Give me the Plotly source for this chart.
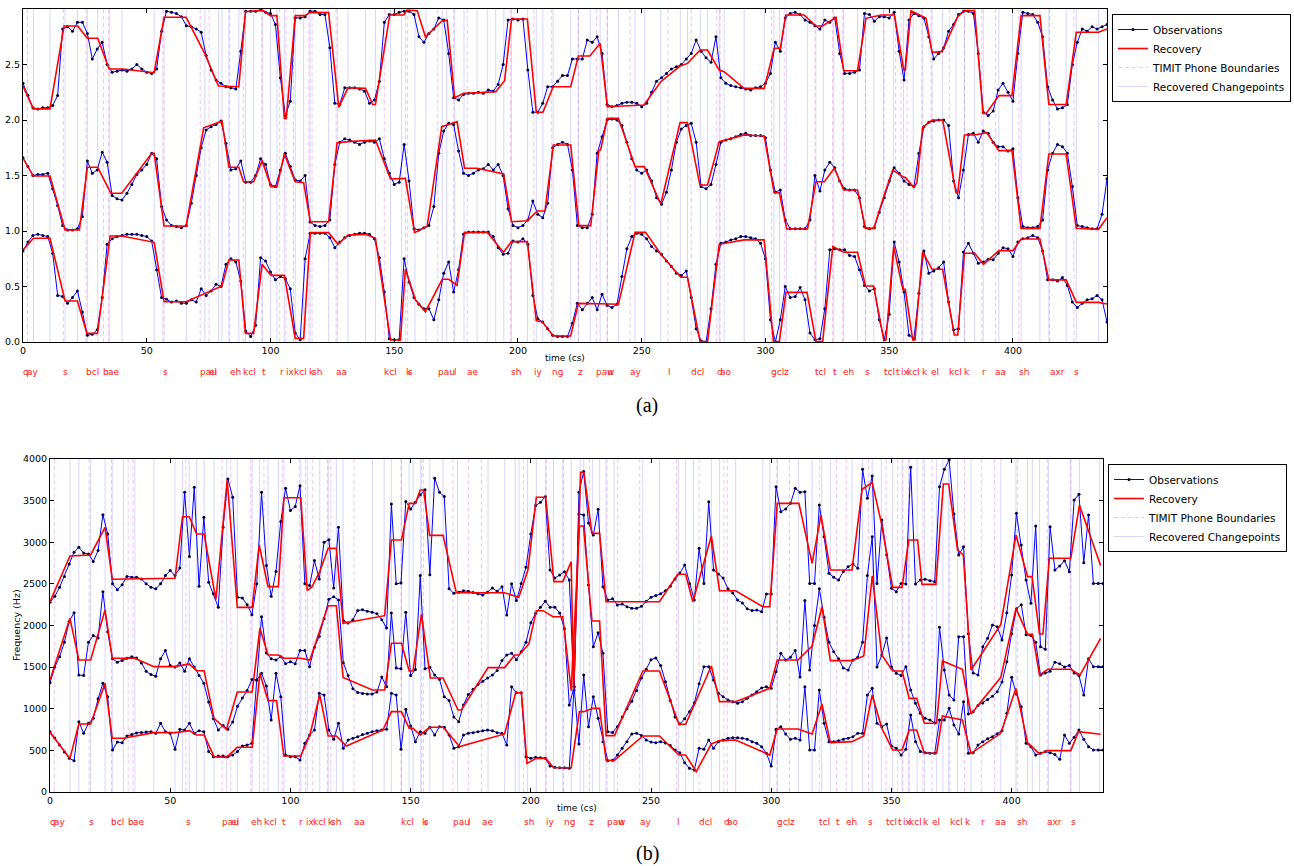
import plotly.graph_objects as go

# ---------------- data ----------------
T = list(range(0, 439, 2))  # sample times (cs), step 2

# Panel (a) observations
A_TOP = [2.33, 2.22, 2.11, 2.10, 2.11, 2.11, 2.13, 2.22, 2.82, 2.84,
         2.80, 2.88, 2.88, 2.78, 2.55, 2.64, 2.70, 2.50, 2.43, 2.44,
         2.45, 2.44, 2.46, 2.50, 2.46, 2.43, 2.42, 2.46, 2.80, 2.98,
         2.97, 2.96, 2.93, 2.85, 2.84, 2.82, 2.79, 2.58, 2.45, 2.36,
         2.33, 2.30, 2.29, 2.28, 2.62, 2.98, 2.98, 2.98, 2.99, 2.97,
         2.96, 2.86, 2.38, 2.04, 2.17, 2.92, 2.92, 2.93, 2.98, 2.98,
         2.95, 2.95, 2.65, 2.15, 2.14, 2.29, 2.29, 2.29, 2.28, 2.26,
         2.15, 2.18, 2.35, 2.88, 2.95, 2.95, 2.97, 2.98, 2.98, 2.95,
         2.75, 2.70, 2.78, 2.82, 2.92, 2.90, 2.60, 2.20, 2.18, 2.23,
         2.24, 2.24, 2.25, 2.24, 2.27, 2.26, 2.32, 2.50, 2.90, 2.91,
         2.90, 2.91, 2.45, 2.07, 2.07, 2.15, 2.30, 2.30, 2.35, 2.40,
         2.40, 2.55, 2.55, 2.55, 2.72, 2.70, 2.75, 2.60, 2.14, 2.12,
         2.13, 2.15, 2.16, 2.16, 2.15, 2.12, 2.15, 2.25, 2.35, 2.38,
         2.42, 2.46, 2.48, 2.50, 2.55, 2.60, 2.72, 2.62, 2.56, 2.52,
         2.75, 2.38, 2.33, 2.31, 2.30, 2.29, 2.28, 2.27, 2.29, 2.30,
         2.33, 2.42, 2.70, 2.62, 2.92, 2.96, 2.97, 2.95, 2.90, 2.88,
         2.85, 2.82, 2.90, 2.88, 2.92, 2.60, 2.42, 2.42, 2.43, 2.45,
         2.96, 2.95, 2.89, 2.93, 2.93, 2.92, 2.97, 2.62, 2.36, 2.90,
         2.96, 2.94, 2.92, 2.75, 2.55, 2.60, 2.65, 2.80, 2.86, 2.95,
         2.98, 2.98, 2.96, 2.60, 2.07, 2.04, 2.08, 2.27, 2.33, 2.25,
         2.17, 2.60, 2.97, 2.96, 2.95, 2.88, 2.75, 2.30, 2.18, 2.10,
         2.11, 2.14, 2.50, 2.70, 2.82, 2.80, 2.84, 2.82, 2.84, 2.86]

A_MID = [1.66, 1.58, 1.50, 1.51, 1.51, 1.52, 1.38, 1.23, 1.05, 1.01,
         1.01, 1.02, 1.13, 1.63, 1.52, 1.55, 1.71, 1.62, 1.32, 1.29,
         1.28, 1.34, 1.42, 1.51, 1.55, 1.60, 1.70, 1.65, 1.22, 1.10,
         1.05, 1.04, 1.03, 1.05, 1.25, 1.50, 1.75, 1.91, 1.94, 1.96,
         1.99, 1.79, 1.55, 1.56, 1.63, 1.44, 1.44, 1.50, 1.65, 1.60,
         1.42, 1.40, 1.55, 1.70, 1.58, 1.46, 1.45, 1.50, 1.08, 1.05,
         1.04, 1.05, 1.10, 1.60, 1.80, 1.83, 1.82, 1.80, 1.78, 1.80,
         1.81, 1.80, 1.83, 1.65, 1.52, 1.42, 1.44, 1.78, 1.45, 1.02,
         1.01, 1.03, 1.05, 1.22, 1.70, 1.90, 1.97, 1.96, 1.72, 1.52,
         1.50, 1.52, 1.55, 1.56, 1.60, 1.55, 1.60, 1.50, 1.20, 1.05,
         1.03, 1.05, 1.10, 1.27, 1.15, 1.12, 1.25, 1.75, 1.78, 1.80,
         1.78, 1.55, 1.05, 1.03, 1.03, 1.15, 1.70, 1.85, 2.00, 2.01,
         2.00, 1.95, 1.80, 1.65, 1.55, 1.52, 1.55, 1.45, 1.30, 1.24,
         1.35, 1.55, 1.80, 1.92, 1.95, 1.97, 1.80, 1.40, 1.38, 1.42,
         1.60, 1.80, 1.82, 1.83, 1.85, 1.87, 1.88, 1.86, 1.86, 1.86,
         1.84, 1.55, 1.35, 1.37, 1.10, 1.02, 1.02, 1.02, 1.02, 1.10,
         1.50, 1.36, 1.55, 1.62, 1.57, 1.45, 1.38, 1.37, 1.37, 1.30,
         1.04, 1.02, 1.03, 1.17, 1.30, 1.45, 1.57, 1.52, 1.45, 1.42,
         1.40, 1.70, 1.94, 1.98, 1.99, 2.00, 2.00, 1.95, 1.45, 1.30,
         1.55, 1.87, 1.88, 1.80, 1.90, 1.88, 1.80, 1.76, 1.76, 1.72,
         1.74, 1.30, 1.04, 1.03, 1.03, 1.04, 1.10, 1.55, 1.70, 1.78,
         1.76, 1.70, 1.40, 1.05, 1.04, 1.03, 1.02, 1.02, 1.15, 1.47]

A_LOW = [0.82, 0.90, 0.96, 0.97, 0.96, 0.95, 0.80, 0.42, 0.41, 0.35,
         0.40, 0.46, 0.27, 0.06, 0.07, 0.11, 0.40, 0.88, 0.93, 0.95,
         0.96, 0.97, 0.97, 0.97, 0.96, 0.95, 0.91, 0.65, 0.40, 0.385,
         0.36, 0.37, 0.35, 0.35, 0.38, 0.36, 0.48, 0.42, 0.46, 0.52,
         0.50, 0.70, 0.75, 0.72, 0.55, 0.10, 0.05, 0.15, 0.76, 0.73,
         0.63, 0.56, 0.59, 0.57, 0.48, 0.08, 0.02, 0.75, 0.98, 0.98,
         0.98, 0.98, 0.94, 0.85, 0.90, 0.94, 0.96, 0.97, 0.98, 0.98,
         0.97, 0.93, 0.76, 0.45, 0.03, 0.02, 0.02, 0.75, 0.54, 0.40,
         0.34, 0.30, 0.30, 0.20, 0.38, 0.62, 0.72, 0.45, 0.65, 0.97,
         0.99, 0.99, 0.99, 0.99, 0.99, 0.95, 0.85, 0.79, 0.80, 0.91,
         0.90, 0.93, 0.88, 0.42, 0.21, 0.18, 0.12, 0.06, 0.05, 0.05,
         0.05, 0.17, 0.35, 0.29, 0.35, 0.40, 0.29, 0.43, 0.33, 0.31,
         0.34, 0.59, 0.84, 0.95, 0.98, 0.97, 0.93, 0.86, 0.82, 0.79,
         0.73, 0.68, 0.62, 0.60, 0.64, 0.40, 0.12, 0.01, 0.00, 0.30,
         0.70, 0.89, 0.90, 0.92, 0.93, 0.95, 0.95, 0.94, 0.93, 0.89,
         0.75, 0.20, 0.00, 0.20, 0.50, 0.40, 0.41, 0.49, 0.38, 0.08,
         0.02, 0.03, 0.30, 0.83, 0.84, 0.83, 0.83, 0.78, 0.77, 0.65,
         0.51, 0.46, 0.48, 0.20, 0.02, 0.25, 0.90, 0.72, 0.45, 0.06,
         0.03, 0.44, 0.82, 0.62, 0.64, 0.67, 0.72, 0.36, 0.11, 0.12,
         0.81, 0.89, 0.80, 0.71, 0.72, 0.745, 0.74, 0.80, 0.85, 0.84,
         0.77, 0.90, 0.93, 0.94, 0.96, 0.94, 0.82, 0.56, 0.56, 0.55,
         0.58, 0.51, 0.36, 0.31, 0.35, 0.38, 0.39, 0.42, 0.38, 0.18]

# Panel (a) recovery breakpoints (time, value)
REC_A_TOP = [(0, 2.306), (4.2, 2.10), (10.9, 2.10), (16.6, 2.847), (22.1, 2.847), (26, 2.736),
             (30.2, 2.736), (34.8, 2.46), (40.3, 2.46), (53, 2.426), (57, 2.925), (65.9, 2.925),
             (73.5, 2.595), (79, 2.306), (87.2, 2.30), (89.9, 2.976), (96.8, 2.99), (99.9, 2.94),
             (102.6, 2.94), (105.6, 2.015), (106.4, 2.015), (110, 2.94), (114, 2.94), (116, 2.97),
             (123.5, 2.967), (127.6, 2.114), (131.3, 2.29), (138.4, 2.285), (141.3, 2.14),
             (142.4, 2.14), (148.2, 2.946), (153.9, 2.946), (155.2, 2.99), (159.3, 2.985),
             (162.6, 2.75), (169.4, 2.895), (171.4, 2.90), (174.4, 2.20), (178.1, 2.24),
             (191, 2.255), (194.6, 2.354), (197.4, 2.91), (203.8, 2.91), (207.4, 2.07),
             (210.1, 2.07), (214.2, 2.30), (221.3, 2.30), (224.4, 2.577), (229, 2.577),
             (233.2, 2.69), (236.1, 2.12), (250.9, 2.135), (257.7, 2.345), (265.5, 2.486),
             (268.5, 2.51), (273.6, 2.63), (276.6, 2.63), (281.3, 2.45), (283.3, 2.435),
             (291.4, 2.285), (299.5, 2.285), (303.5, 2.646), (306, 2.646), (308.2, 2.946),
             (315.6, 2.946), (320.4, 2.847), (323.1, 2.847), (328.5, 2.925), (331.6, 2.444),
             (337.2, 2.444), (340.6, 2.916), (346.7, 2.946), (352.1, 2.946), (355.9, 2.45),
             (356.5, 2.45), (358.8, 2.985), (364.9, 2.916), (367.3, 2.61), (371.4, 2.616),
             (377.7, 2.93), (380.4, 2.985), (384.5, 2.985), (387.9, 2.06), (389.2, 2.06),
             (394.3, 2.22), (399.6, 2.22), (403.3, 2.94), (410.9, 2.94), (414.5, 2.14),
             (421.5, 2.14), (425.6, 2.79), (434.6, 2.79), (438, 2.82)]

REC_A_MID = [(0, 1.655), (4.2, 1.495), (10.9, 1.495), (17, 1.01), (22.8, 1.01), (26, 1.574),
             (30.2, 1.574), (35.5, 1.34), (39.9, 1.34), (52, 1.70), (53, 1.70), (57, 1.045),
             (65.9, 1.045), (73, 1.93), (80.4, 1.99), (83.2, 1.574), (87.2, 1.574), (89.1, 1.444),
             (93.2, 1.444), (96.6, 1.634), (100.2, 1.40), (102.6, 1.40), (105.6, 1.694),
             (110, 1.444), (113.4, 1.435), (116.1, 1.084), (123.5, 1.084), (126.9, 1.796),
             (131.3, 1.805), (142.4, 1.82), (148.5, 1.468), (154.5, 1.474), (158.2, 0.985),
             (163.3, 1.04), (169.2, 1.94), (175.4, 1.985), (178.4, 1.565), (183.5, 1.565),
             (194.2, 1.514), (197.4, 1.084), (203.8, 1.093), (207.8, 1.18), (210.9, 1.18),
             (214.3, 1.775), (221.3, 1.775), (224.6, 1.048), (229.4, 1.048), (232.7, 1.73),
             (233.4, 1.73), (236.1, 2.015), (240.6, 2.015), (247.3, 1.58), (251, 1.58),
             (257.7, 1.243), (265.5, 1.976), (268.5, 1.976), (273.5, 1.414), (276.6, 1.414),
             (281.3, 1.805), (291.4, 1.865), (299.5, 1.856), (303.5, 1.345), (305.6, 1.345),
             (308.6, 1.018), (317, 1.018), (320.4, 1.444), (323.8, 1.444), (327.8, 1.565),
             (331.6, 1.37), (337.2, 1.37), (340.4, 1.024), (343.8, 1.024), (347.8, 1.31),
             (351.4, 1.55), (355.9, 1.483), (356.5, 1.483), (359.9, 1.393), (361.2, 1.435),
             (363.5, 1.934), (367.3, 2.0), (371.6, 2.0), (377, 1.345), (377.7, 1.345),
             (380.4, 1.865), (384.5, 1.865), (389.4, 1.886), (394.3, 1.724), (399.6, 1.724),
             (403.3, 1.024), (410.9, 1.024), (414.5, 1.694), (421.5, 1.694), (425.6, 1.024),
             (434.6, 1.015), (438, 1.12)]

REC_A_LOW = [(0, 0.83), (4.2, 0.935), (10.9, 0.935), (17, 0.37), (22, 0.37), (25.8, 0.078),
             (30.1, 0.078), (35.2, 0.955), (39.9, 0.955), (53, 0.898), (57, 0.363), (65.9, 0.363),
             (80.4, 0.505), (83.2, 0.739), (87.2, 0.739), (89.9, 0.078), (93.2, 0.078),
             (96.6, 0.70), (100.2, 0.60), (105.6, 0.60), (110, 0.033), (113.4, 0.033),
             (116.1, 0.985), (123.5, 0.985), (127.3, 0.88), (131.3, 0.964), (138.4, 0.97),
             (142.4, 0.934), (148.5, 0.018), (152.5, 0.018), (154.5, 0.655), (158.6, 0.378),
             (162.6, 0.273), (169.4, 0.565), (172, 0.565), (175.4, 0.51), (178.4, 0.988),
             (187.6, 0.988), (194.1, 0.808), (197.4, 0.904), (203.8, 0.904), (207.4, 0.19),
             (209.8, 0.183), (214.3, 0.054), (221.3, 0.054), (224.4, 0.348), (233.2, 0.345),
             (240.6, 0.34), (247.3, 0.988), (251.6, 0.988), (257.7, 0.79), (265.8, 0.583),
             (268.5, 0.583), (273.6, 0.003), (276.6, 0.003), (281.3, 0.88), (291.4, 0.92),
             (299.5, 0.92), (303.2, 0.003), (305.6, 0.003), (308.3, 0.447), (316.8, 0.447),
             (320.4, 0.003), (323.1, 0.003), (327.2, 0.86), (331.6, 0.808), (337.2, 0.808),
             (340.4, 0.505), (343.7, 0.505), (347.8, 0.018), (348.7, 0.018), (351.8, 0.86),
             (355.5, 0.474), (356.5, 0.474), (359.5, 0.018), (360.4, 0.018), (363.5, 0.814),
             (367.3, 0.655), (371.6, 0.655), (376.3, 0.063), (377.7, 0.063), (380.4, 0.80),
             (384.5, 0.80), (388.1, 0.70), (394.3, 0.823), (400, 0.823), (403.3, 0.928),
             (410.9, 0.928), (414.5, 0.56), (421.5, 0.56), (425.6, 0.357), (434.6, 0.357),
             (438, 0.342)]

# Panel (b) observations (Hz)
B_TOP = [2280, 2350, 2460, 2590, 2740, 2880, 2940, 2870, 2860, 2770,
         2900, 3330, 3100, 2500, 2430, 2490, 2590, 2580, 2580, 2560,
         2500, 2460, 2440, 2500, 2600, 2660, 2600, 2690, 3600, 2830,
         3660, 2470, 3300, 2520, 2380, 2220, 3180, 3760, 3540, 2340,
         2330, 2250, 2130, 2500, 3600, 2720, 2350, 2650, 3250, 3650,
         3380, 3430, 3680, 2500, 2480, 2780, 2560, 3000, 3030, 2450,
         3180, 2060, 2030, 2070, 2180, 2190, 2170, 2160, 2140, 2070,
         1970, 3460, 2500, 2510, 3490, 3400, 3480, 3570, 3630, 2610,
         3770, 3600, 3550, 2440, 2386, 2400, 2418, 2410, 2395, 2380,
         2366, 2400, 2450, 2410, 2466, 2126, 2500, 2300, 2506, 2700,
         3100, 3440, 3480, 3548, 2667, 2570, 2607, 2647, 2547, 1225,
         3600, 3850, 3230, 3087, 3395, 2466, 2306, 2320, 2246, 2258,
         2226, 2206, 2206, 2230, 2290, 2340, 2360, 2380, 2418, 2470,
         2560, 2630, 2727, 2500, 2306, 2927, 2506, 3487, 2667, 2619,
         2570, 2440, 2390, 2306, 2270, 2200, 2180, 2186, 2166, 2378,
         2378, 3668, 3367, 3400, 3467, 3648, 3600, 3608, 2506, 2506,
         3447, 3067, 2627, 2580, 2547, 2650, 2707, 2740, 2687, 3876,
         3528, 3796, 2506, 3267, 2850, 2446, 2406, 2506, 2498, 3900,
         2498, 2547, 2555, 2538, 2527, 3668, 3876, 3990, 3339, 2847,
         2947, 1900, 1430, 1405, 1746, 1846, 2006, 1986, 1826, 2154,
         2607, 3347, 2967, 2547, 2266, 3195, 1746, 1714, 3187, 2667,
         2715, 2779, 2647, 3508, 3576, 2755, 3327, 2506, 2506, 2506]

B_MID = [1313, 1500, 1626, 1800, 2050, 2154, 1405, 1400, 1800, 1880,
         1850, 2406, 1926, 1600, 1560, 1580, 1606, 1626, 1610, 1550,
         1450, 1410, 1390, 1600, 1700, 1520, 1500, 1550, 1450, 1600,
         1500, 1400, 1305, 1080, 880, 745, 800, 753, 840, 1030,
         1130, 1220, 1350, 1345, 2106, 1670, 1600, 1586, 1626, 1540,
         1566, 1540, 1700, 1700, 1506, 1740, 1870, 2080, 2314, 2346,
         2306, 1554, 1400, 1240, 1195, 1183, 1177, 1177, 1200, 1380,
         1265, 2150, 1490, 1480, 2160, 1400, 1470, 2600, 1480, 1498,
         1405, 1353, 1145, 1100, 900, 845, 1045, 1170, 1235, 1290,
         1330, 1370, 1405, 1460, 1580, 1646, 1666, 1590, 1686, 1800,
         2034, 2146, 2220, 2290, 2220, 2220, 2150, 1960, 1045, 1265,
         3340, 3327, 2486, 1746, 1914, 1666, 725, 715, 785, 900,
         1000, 1090, 1220, 1370, 1474, 1590, 1610, 1520, 1325, 1100,
         900, 817, 880, 965, 1070, 1300, 1506, 1506, 1345, 1185,
         1145, 1105, 1085, 1065, 1085, 1125, 1165, 1205, 1250, 1265,
         1245, 1445, 1666, 1586, 1620, 1700, 1380, 2300, 1466, 2000,
         2440, 2100, 1800, 1686, 1600, 1490, 1466, 1586, 1620, 1800,
         2600, 3067, 1500, 1646, 1850, 1500, 1425, 1400, 1506, 1225,
         1065, 945, 885, 865, 830, 1978, 1466, 1165, 1105, 1866,
         1866, 937, 965, 1040, 1070, 1110, 1150, 1205, 1320, 1566,
         1900, 2200, 2250, 1890, 1880, 1800, 1405, 1430, 1450, 1560,
         1540, 1500, 1520, 1430, 1400, 1165, 1600, 1506, 1506, 1506]

B_LOW = [725, 650, 565, 480, 404, 376, 845, 705, 825, 885,
         1120, 1305, 1145, 505, 600, 593, 673, 690, 710, 715,
         721, 725, 705, 825, 725, 705, 513, 753, 745, 825,
         705, 737, 725, 485, 424, 432, 432, 424, 444, 485,
         553, 565, 585, 1345, 1425, 1273, 865, 1425, 1145, 444,
         424, 424, 384, 585, 685, 745, 1185, 1165, 745, 633,
         825, 525, 625, 645, 665, 690, 705, 725, 737, 745,
         753, 1185, 1165, 513, 993, 793, 605, 725, 705, 777,
         685, 785, 777, 685, 525, 545, 685, 705, 713, 725,
         737, 745, 737, 713, 705, 565, 1265, 1193, 1193, 424,
         404, 416, 412, 404, 312, 296, 292, 292, 284, 1265,
         577, 1405, 785, 1145, 885, 605, 376, 380, 444, 525,
         605, 697, 705, 680, 625, 600, 593, 605, 590, 560,
         505, 472, 352, 284, 264, 525, 513, 625, 525, 605,
         625, 645, 653, 653, 645, 633, 605, 585, 545, 464,
         312, 753, 785, 697, 633, 645, 625, 1265, 505, 505,
         1225, 825, 605, 605, 617, 633, 645, 665, 705, 705,
         1165, 1245, 825, 785, 817, 553, 525, 444, 513, 925,
         605, 485, 472, 465, 465, 865, 865, 1005, 805, 697,
         1085, 465, 470, 565, 605, 640, 665, 700, 737, 945,
         1377, 1177, 1025, 585, 545, 444, 465, 485, 472, 450,
         392, 685, 585, 657, 745, 633, 545, 505, 505, 505]

REC_B_TOP = [(0, 2286), (8.3, 2835), (16.9, 2847), (22.9, 3179), (25.9, 2555), (52, 2567),
             (55.1, 3307), (57.9, 3307), (61, 3099), (64.1, 3099), (69, 2314), (73.7, 3748),
             (77.9, 2218), (84.1, 2218), (87, 2967), (90.7, 2467), (95, 2467), (97.3, 3535),
             (104.3, 3535), (107, 2418), (109, 2467), (112.2, 2647), (115.7, 2927), (119.1, 2927),
             (121.9, 2026), (139.2, 2118), (142, 3027), (146.2, 3027), (149.4, 3467), (152, 3467),
             (154, 3628), (155.4, 3628), (157.9, 3083), (163.5, 3083), (169, 2394), (189.1, 2394),
             (195, 2338), (198.8, 2667), (202.3, 3540), (206.2, 3540), (209.6, 2527), (213.3, 2527),
             (216.8, 2767), (217.8, 1225), (220.7, 3840), (222.1, 3840), (225.4, 3107),
             (228.6, 3107), (231.3, 2286), (253.5, 2286), (261.1, 2615), (264.4, 2615),
             (267.4, 2286), (275.1, 3075), (278.5, 2418), (285.2, 2418), (296.5, 2226),
             (299.4, 2226), (302.5, 3467), (311.5, 3467), (317, 2747), (320.7, 3327),
             (324.6, 2667), (333.6, 2667), (337.8, 3636), (342, 3716), (345.7, 3247),
             (350.5, 2458), (354.4, 2458), (357.2, 3027), (360.9, 3027), (362.7, 2494),
             (368.5, 2494), (371.6, 3700), (373.8, 3700), (377.5, 2907), (379.9, 2847),
             (383.1, 1465), (395.5, 2014), (401.8, 3087), (406.6, 2587), (408.5, 2587),
             (411.6, 1898), (413, 1898), (415.7, 2807), (424.6, 2807), (428.2, 3447),
             (437, 2720)]

REC_B_MID = [(0, 1345), (8.3, 2086), (12, 1586), (16.9, 1586), (22.9, 2186), (25.9, 1606),
             (35.3, 1606), (43.2, 1506), (52, 1506), (57.9, 1538), (61, 1457), (64.1, 1457),
             (68.2, 885), (73.4, 753), (77.9, 1201), (84.1, 1201), (87.3, 1966), (90.7, 1646),
             (95, 1646), (97.3, 1606), (104.3, 1606), (108.1, 1586), (112.2, 1938), (115.7, 2238),
             (119.1, 2238), (121.9, 1377), (134.1, 1225), (139.2, 1225), (142, 1786), (146.2, 1786),
             (149.4, 1453), (151, 1453), (154.5, 2134), (158.2, 1370), (163.5, 1370), (169.7, 985),
             (171.1, 985), (182.2, 1494), (189.1, 1494), (193.3, 1646), (195.1, 1646),
             (199.2, 1778), (202.3, 2178), (205.1, 2178), (209.2, 2106), (213.3, 2106),
             (216.8, 1217), (220.2, 3195), (221.9, 3195), (225.4, 2054), (228.6, 2054),
             (231.3, 677), (234.8, 677), (246.6, 1453), (253.5, 1453), (261.6, 813), (264.4, 813),
             (267.7, 1033), (275.1, 1513), (278.5, 1085), (285.2, 1085), (299.4, 1245),
             (302.5, 1586), (311.1, 1586), (317, 1754), (321.1, 2226), (324.6, 1578),
             (333.6, 1578), (338.5, 1634), (342, 2595), (346, 1646), (350.5, 1453), (354.4, 1453),
             (357.4, 1125), (360.5, 1125), (363.7, 825), (368.8, 825), (371.2, 1574),
             (379.5, 1474), (383.1, 937), (395.5, 1377), (401.8, 2206), (406.6, 1894),
             (408.7, 1894), (411.6, 1405), (415, 1474), (424.6, 1474), (428.4, 1405), (437, 1846)]

REC_B_LOW = [(0, 717), (8.3, 404), (12, 817), (16.9, 817), (22.9, 1305), (25.9, 645), (30.5, 645),
             (43.2, 713), (52, 713), (57.9, 737), (61, 685), (64.1, 685), (68.2, 424), (73.4, 416),
             (77.9, 537), (84.1, 537), (87.3, 1425), (90.7, 1097), (94.2, 1097), (97.3, 432),
             (104.3, 432), (108.1, 685), (112.2, 1165), (115.7, 673), (119.1, 673), (123.3, 553),
             (138.5, 745), (142, 965), (146.2, 965), (149.4, 765), (151, 765), (154, 685),
             (157.9, 777), (163.5, 777), (170.4, 545), (189.1, 697), (193.7, 1193), (196.1, 1193),
             (198.4, 344), (202.3, 404), (206.2, 404), (209.5, 292), (216.8, 292), (220.2, 965),
             (222, 965), (225.9, 1005), (228.6, 1005), (231.3, 384), (234.6, 376), (246.6, 673),
             (253.5, 673), (261.6, 444), (264.4, 444), (268.8, 244), (275.1, 577), (278.5, 617),
             (285.2, 625), (299.4, 444), (302.5, 757), (311.1, 757), (317, 697), (321.1, 1057),
             (324.6, 593), (333.6, 605), (338.5, 673), (342, 1165), (346, 765), (350.5, 505),
             (354.4, 505), (357.4, 745), (360.5, 745), (363.7, 465), (368.8, 465), (371.2, 913),
             (379.5, 865), (383.1, 465), (395.5, 705), (401.8, 1245), (406.6, 593), (411.6, 457),
             (415, 497), (424.6, 497), (427.8, 725), (437, 693)]

# TIMIT phone labels and their start times (cs)
PHONES = ["q", "ay", "s", "bcl", "b", "ae", "s", "pau", "el", "eh", "kcl", "t", "r", "ix",
          "kcl", "k", "sh", "aa", "kcl", "k", "s", "pau", "l", "ae", "sh", "iy", "ng", "z",
          "pau", "w", "ay", "l", "dcl", "d", "ao", "gcl", "z", "tcl", "t", "eh", "s", "tcl",
          "t", "ix", "kcl", "k", "el", "kcl", "k", "r", "aa", "sh", "axr", "s"]
PHONE_START = [0, 1.8, 16.3, 25.5, 32.5, 34.5, 56.5, 71.6, 75.2, 83.5, 89, 96.6, 103.7, 106.3,
               109.3, 115.5, 116.8, 126.5, 146, 154.6, 155.4, 167.6, 174, 179.5, 197, 206.4,
               213.6, 224.4, 231.7, 236.1, 245.3, 260.6, 270, 280.3, 281.7, 302.4, 307.6, 320,
               327.1, 331.2, 340.4, 347.8, 352.6, 354.8, 357.2, 363.1, 366.9, 374.3, 380.4,
               387.4, 392.9, 402.4, 414.8, 424.6]

CHANGE_A = [4.2, 10.9, 17, 22, 26, 30.2, 35, 40, 53, 57, 66, 73.5, 79, 80.4, 83.2, 87.2, 89.9,
            93.2, 96.7, 100, 102.6, 105.6, 110, 113.4, 116, 123.5, 127, 131.3, 138.4, 142.4,
            148.5, 153, 158.4, 162.8, 169.4, 171.2, 174.4, 178.2, 183.5, 187.6, 191, 194.3,
            197.4, 203.8, 207.4, 210, 214.2, 221.3, 224.4, 229.2, 233.2, 236.1, 240.6, 247.3,
            251.2, 257.7, 265.6, 268.5, 273.6, 276.6, 281.3, 283.3, 291.4, 299.5, 303.4, 305.7,
            308.4, 316.9, 320.4, 323.4, 327.6, 331.6, 337.2, 340.5, 343.8, 347.8, 351.8, 355.8,
            359.7, 363.5, 367.3, 371.5, 377, 380.4, 384.5, 388, 394.3, 399.8, 403.3, 410.9,
            414.5, 421.5, 425.6, 434.6]

CHANGE_B = [8.3, 12, 16.9, 22.9, 25.9, 30.5, 35.3, 43.2, 52, 55.1, 57.9, 61, 64.1, 68.2, 73.5,
            77.9, 84.1, 87.2, 90.7, 95, 97.3, 104.3, 107, 112.2, 115.7, 119.1, 121.9, 134.1,
            139, 142, 146.2, 149.4, 151, 154.2, 158, 163.5, 169.5, 182.2, 189.1, 193.5, 195.1,
            198.6, 202.3, 206.2, 209.4, 213.3, 216.8, 220.5, 222, 225.6, 228.6, 231.3, 234.7,
            246.6, 253.5, 261.4, 264.4, 267.6, 275.1, 278.5, 285.2, 296.5, 299.4, 302.5, 311.3,
            317, 321, 324.6, 333.6, 338, 342, 345.8, 350.5, 354.4, 357.3, 360.7, 363.7, 368.7,
            371.4, 373.8, 377.5, 383.1, 395.5, 401.8, 406.6, 408.6, 411.6, 415.3, 424.6, 428.2,
            436.7]

# ---------------- figure ----------------
OBS_LINE = "#0000ff"
OBS_MARK = "#000033"
REC_COL = "#ff0000"
TIMIT_COL = "rgba(230,120,220,0.45)"
CP_COL = "rgba(120,120,255,0.30)"
FONT = "DejaVu Sans"

W, H = 1294, 866


def px(xpix):
    return xpix / W


def py(ypix):
    return 1 - ypix / H


fig = go.Figure()


def vline_xy(xs, top):
    X, Y = [], []
    for v in xs:
        X += [v, v, None]
        Y += [0, top, None]
    return X, Y


panels = [
    dict(xa="x", ya="y", leg="legend", top=3.0,
         obs=[A_TOP, A_MID, A_LOW], rec=[REC_A_TOP, REC_A_MID, REC_A_LOW], cps=CHANGE_A),
    dict(xa="x2", ya="y2", leg="legend2", top=4000,
         obs=[B_TOP, B_MID, B_LOW], rec=[REC_B_TOP, REC_B_MID, REC_B_LOW], cps=CHANGE_B),
]

for p in panels:
    X, Y = vline_xy(PHONE_START[1:], p["top"])
    fig.add_trace(go.Scatter(x=X, y=Y, mode="lines", xaxis=p["xa"], yaxis=p["ya"],
                             line=dict(color=TIMIT_COL, width=1, dash="4px,3px"),
                             name="TIMIT Phone Boundaries", legend=p["leg"], legendrank=3,
                             hoverinfo="skip"))
    X, Y = vline_xy(p["cps"], p["top"])
    fig.add_trace(go.Scatter(x=X, y=Y, mode="lines", xaxis=p["xa"], yaxis=p["ya"],
                             line=dict(color=CP_COL, width=1),
                             name="Recovered Changepoints", legend=p["leg"], legendrank=4,
                             hoverinfo="skip"))
    for i, s in enumerate(p["obs"]):
        fig.add_trace(go.Scatter(x=T, y=s, mode="lines+markers", xaxis=p["xa"], yaxis=p["ya"],
                                 line=dict(color=OBS_LINE, width=1),
                                 marker=dict(color=OBS_MARK, size=3),
                                 name="Observations", legend=p["leg"], legendrank=1,
                                 showlegend=(i == 0)))
    for i, r in enumerate(p["rec"]):
        fig.add_trace(go.Scatter(x=[a for a, b in r], y=[b for a, b in r], mode="lines",
                                 xaxis=p["xa"], yaxis=p["ya"],
                                 line=dict(color=REC_COL, width=1.6),
                                 name="Recovery", legend=p["leg"], legendrank=2,
                                 showlegend=(i == 0)))

axis_common = dict(showline=True, linecolor="black", linewidth=1, mirror="ticks",
                   ticks="inside", ticklen=4, tickcolor="black", showgrid=False, zeroline=False,
                   tickfont=dict(family=FONT, size=9.5, color="black"))

leg_common = dict(xanchor="left", yanchor="top", bordercolor="black", borderwidth=1,
                  bgcolor="white", font=dict(family=FONT, size=10.5, color="black"),
                  tracegroupgap=0, itemwidth=30)

fig.update_layout(
    width=W, height=H, margin=dict(l=0, r=0, t=0, b=0, autoexpand=False),
    paper_bgcolor="white", plot_bgcolor="white",
    xaxis=dict(domain=[px(23), px(1107)], anchor="y", range=[0, 438],
               tickvals=[0, 50, 100, 150, 200, 250, 300, 350, 400], **axis_common),
    yaxis=dict(domain=[py(342), py(9)], anchor="x", range=[0, 3.0],
               tickvals=[0, 0.5, 1.0, 1.5, 2.0, 2.5],
               ticktext=["0.0", "0.5", "1.0", "1.5", "2.0", "2.5"], **axis_common),
    xaxis2=dict(domain=[px(50), px(1103)], anchor="y2", range=[0, 438],
                tickvals=[0, 50, 100, 150, 200, 250, 300, 350, 400], **axis_common),
    yaxis2=dict(domain=[py(792), py(459)], anchor="x2", range=[0, 4000],
                tickvals=[0, 500, 1000, 1500, 2000, 2500, 3000, 3500, 4000], **axis_common),
    legend=dict(x=px(1112), y=py(14), **leg_common),
    legend2=dict(x=px(1108), y=py(464), **leg_common),
    showlegend=True,
)

ann = []
for xa, ylab in [("x", py(372)), ("x2", py(822))]:
    for name, st in zip(PHONES, PHONE_START):
        ann.append(dict(x=st, y=ylab, xref=xa, yref="paper", text=name, showarrow=False,
                        xanchor="left", yanchor="middle", xshift=-2,
                        font=dict(family=FONT, size=9, color="#ff2020")))
ann.append(dict(x=px((23 + 1107) / 2), y=py(358), xref="paper", yref="paper",
                text="time (cs)", showarrow=False, xanchor="center", yanchor="middle",
                font=dict(family=FONT, size=9, color="black")))
ann.append(dict(x=px((50 + 1103) / 2), y=py(808), xref="paper", yref="paper",
                text="time (cs)", showarrow=False, xanchor="center", yanchor="middle",
                font=dict(family=FONT, size=9, color="black")))
ann.append(dict(x=px(16), y=py(625), xref="paper", yref="paper", text="Frequency (Hz)",
                showarrow=False, textangle=-90, xanchor="center", yanchor="middle",
                font=dict(family=FONT, size=9.5, color="black")))
ann.append(dict(x=px(647), y=py(405), xref="paper", yref="paper", text="(a)", showarrow=False,
                xanchor="center", yanchor="middle",
                font=dict(family="Liberation Serif", size=20, color="black")))
ann.append(dict(x=px(647), y=py(853), xref="paper", yref="paper", text="(b)", showarrow=False,
                xanchor="center", yanchor="middle",
                font=dict(family="Liberation Serif", size=20, color="black")))
fig.update_layout(annotations=ann)

# remove the browser's default 8px body margin so the figure fills the window exactly
fig.write_html("out.html",
               config={"displayModeBar": False},
               post_script="document.body.style.margin='0px';"
                           "document.body.style.overflow='hidden';")
